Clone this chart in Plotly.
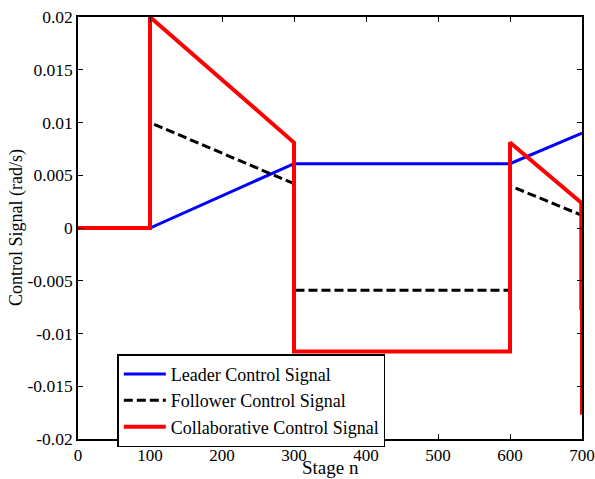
import plotly.graph_objects as go

# ---- data ----
stage_leader = [0, 100, 300, 600, 700]
leader_signal = [0.0, 0.0, 0.0061, 0.0061, 0.0090]

stage_follower = [0, 100, 100, 300, 300, 600, 600, 700]
follower_signal = [0.0, 0.0, 0.0100, 0.0042, -0.0059, -0.0059, 0.0040, 0.0012]

stage_collab = [0, 100, 100, 300, 300, 600, 600, 699, 699, 700, 700]
collab_signal = [0.0, 0.0, 0.0200, 0.0081, -0.0117, -0.0117, 0.0081, 0.0024, -0.0078, 0.0010, -0.0177]

x_ticks = [0, 100, 200, 300, 400, 500, 600, 700]
y_ticks = [0.02, 0.015, 0.01, 0.005, 0, -0.005, -0.01, -0.015, -0.02]
y_ticktext = ["0.02", "0.015", "0.01", "0.005", "0", "-0.005", "-0.01", "-0.015", "-0.02"]

FONT = "Liberation Serif"

fig = go.Figure()
fig.add_trace(go.Scatter(x=stage_leader, y=leader_signal, mode="lines",
                         name="Leader Control Signal",
                         line=dict(color="#0000ff", width=3)))
fig.add_trace(go.Scatter(x=stage_follower, y=follower_signal, mode="lines",
                         name="Follower Control Signal",
                         line=dict(color="#000000", width=3, dash="9px,4px")))
fig.add_trace(go.Scatter(x=stage_collab, y=collab_signal, mode="lines",
                         name="Collaborative Control Signal",
                         line=dict(color="#ff0000", width=4)))

axis_common = dict(showgrid=False, zeroline=False, showline=True, linecolor="black",
                   linewidth=1.5, mirror="ticks", ticks="inside", ticklen=5,
                   tickcolor="black", tickwidth=1, ticklabeloverflow="allow",
                   tickfont=dict(family=FONT, size=17.5, color="black"))

fig.update_xaxes(range=[0, 700], tickvals=x_ticks, **axis_common)
fig.update_yaxes(range=[-0.02, 0.02], tickvals=y_ticks, ticktext=y_ticktext, **axis_common)
fig.update_xaxes(tickfont=dict(size=17))

fig.update_layout(
    width=595, height=479,
    margin=dict(l=78, r=13, t=17, b=40, autoexpand=False),
    paper_bgcolor="white", plot_bgcolor="white",
    font=dict(family=FONT, size=18, color="black"),
    showlegend=True,
    legend=dict(x=0.078, y=0.201, xanchor="left", yanchor="top",
                bgcolor="white", bordercolor="black", borderwidth=1.5,
                font=dict(family=FONT, size=18, color="black"),
                tracegroupgap=0, itemwidth=42),
    annotations=[
        dict(text="Stage n", x=0.5, y=0, xref="paper", yref="paper",
             xanchor="center", yanchor="middle", yshift=-28, showarrow=False,
             font=dict(family=FONT, size=19, color="black")),
        dict(text="Control Signal (rad/s)", x=0, y=0.5, xref="paper", yref="paper",
             xanchor="center", yanchor="middle", xshift=-62, textangle=-90,
             showarrow=False, font=dict(family=FONT, size=18, color="black")),
    ],
)

fig.write_html("out.html")
